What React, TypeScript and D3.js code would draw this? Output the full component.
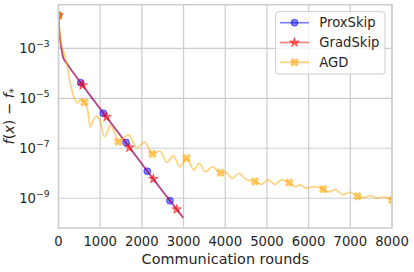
import * as d3 from 'd3';

// ProxSkip curve (communication rounds, f(x) - f*)
const proxX = [0, 15, 40, 70, 115, 200, 532, 1075, 1619, 2130, 2674, 2993];
const proxY = [2.1e-2, 6.3e-3, 2.2e-3, 1.0e-3, 4.2e-4, 2.5e-4, 4.2e-5, 2.5e-6, 1.7e-7, 1.2e-8, 7.9e-10, 1.66e-10];
const proxMarks = [0, 532, 1075, 1619, 2130, 2674];

// GradSkip curve
const gradX = [0, 15, 40, 70, 115, 200, 580, 1155, 1700, 2275, 2835, 2990];
const gradY = [2.1e-2, 6.3e-3, 2.2e-3, 1.0e-3, 4.2e-4, 2.5e-4, 3.3e-5, 1.8e-6, 1.07e-7, 5.9e-9, 3.6e-10, 1.66e-10];
const gradMarks = [0, 580, 1155, 1700, 2275, 2835];

// AGD curve (oscillating)
const agdX = [
  0, 30, 70, 115, 197, 260, 300, 379, 461, 540, 620, 700, 763, 835, 900, 996, 1099, 1180, 1235, 1339,
  1435, 1680, 1880, 2060, 2250, 2430, 2596, 2754, 2915, 3074, 3250, 3370, 3530, 3690, 3890, 4000,
  4170, 4330, 4500, 4714, 4875, 5033, 5194, 5355, 5535, 5674, 5794, 5954, 6113, 6350, 6480, 6640,
  6820, 6980, 7175, 7330, 7480, 7650, 7800, 8000,
];
const agdY = [
  2.1e-2, 5.0e-3, 1.4e-3, 7.9e-4, 2.5e-4, 6.3e-5, 2.9e-5, 1.0e-5, 6.6e-6, 9.1e-6, 6.9e-6, 3.4e-6,
  7.2e-7, 1.35e-6, 1.95e-6, 1.35e-6, 2.9e-7, 4.6e-7, 8.5e-7, 4.6e-7, 1.8e-7, 3.5e-7, 1.05e-7, 1.8e-7,
  5.9e-8, 7.9e-8, 2.75e-8, 5.0e-8, 1.8e-8, 4.0e-8, 1.35e-8, 2.5e-8, 1.15e-8, 1.8e-8, 1.05e-8, 1.1e-8,
  6.3e-9, 1.0e-8, 5.6e-9, 4.7e-9, 3.6e-9, 5.4e-9, 3.6e-9, 5.4e-9, 4.2e-9, 2.9e-9, 3.4e-9, 2.5e-9,
  2.9e-9, 2.3e-9, 1.78e-9, 2.2e-9, 1.41e-9, 1.74e-9, 1.2e-9, 1.07e-9, 1.26e-9, 1.02e-9, 1.12e-9, 8.5e-10,
];
const agdMarks = [0, 620, 1435, 2250, 3074, 3890, 4714, 5535, 6350, 7175, 8000];

const xTicks = [0, 1000, 2000, 3000, 4000, 5000, 6000, 7000, 8000];
const yTickExps = [-9, -7, -5, -3];
const seriesNames = ['ProxSkip', 'GradSkip', 'AGD'];
const seriesColors = ['#0000ff', '#ff0000', '#ffa500'];

const W = 414;
const H = 272;
const plot = { left: 58.5, right: 392, top: 4.7, bottom: 228 };
const font = 'DejaVu Sans, sans-serif';
const txt = '#262626';
const gridC = '#cccccc';

const x = d3.scaleLinear().domain([0, 8000]).range([plot.left, plot.right]);
const y = d3.scaleLog().domain([Math.pow(10, -10.19), Math.pow(10, -1.256)]).range([plot.bottom, plot.top]);

type P = [number, number];
const zip = (xs: number[], ys: number[]): P[] => xs.map((v, i) => [v, ys[i]]);
const pick = (xs: number[], ys: number[], marks: number[]): P[] =>
  marks.map((m) => [m, ys[xs.indexOf(m)]]);

const lineGen = d3.line<P>().x((d) => x(d[0])).y((d) => y(d[1])).curve(d3.curveMonotoneX);

const circlePath = d3.symbol().type(d3.symbolCircle).size(38)()!;
const starPath = d3.symbol().type(d3.symbolStar).size(28)()!;
const xPath = d3.symbol().type(d3.symbolCross).size(34)()!;

function Marker({ kind, cx, cy, color }: { kind: number; cx: number; cy: number; color: string }) {
  const d = kind === 0 ? circlePath : kind === 1 ? starPath : xPath;
  const rot = kind === 2 ? ' rotate(45)' : '';
  return (
    <path
      d={d}
      transform={`translate(${cx},${cy})${rot}`}
      fill={color}
      fillOpacity={0.5}
      stroke={color}
      strokeOpacity={0.5}
      strokeWidth={1}
    />
  );
}

export default function App() {
  const series = [
    { pts: zip(proxX, proxY), marks: pick(proxX, proxY, proxMarks) },
    { pts: zip(gradX, gradY), marks: pick(gradX, gradY, gradMarks) },
    { pts: zip(agdX, agdY), marks: pick(agdX, agdY, agdMarks) },
  ];
  const cx = (plot.left + plot.right) / 2;
  const cy = (plot.top + plot.bottom) / 2;

  return (
    <svg
      width={W}
      height={H}
      style={{ position: 'absolute', left: 0, top: 0, background: '#fff' }}
      fontFamily={font}
    >
      <defs>
        <clipPath id="plotClip">
          <rect x={plot.left} y={plot.top} width={plot.right - plot.left} height={plot.bottom - plot.top} />
        </clipPath>
      </defs>
      <rect width={W} height={H} fill="#fff" />

      {/* grid */}
      {xTicks.map((t) => (
        <line key={'gx' + t} x1={x(t)} x2={x(t)} y1={plot.top} y2={plot.bottom} stroke={gridC} strokeWidth={1.2} />
      ))}
      {yTickExps.map((e) => (
        <line key={'gy' + e} x1={plot.left} x2={plot.right} y1={y(Math.pow(10, e))} y2={y(Math.pow(10, e))} stroke={gridC} strokeWidth={1.2} />
      ))}

      {/* data */}
      <g clipPath="url(#plotClip)">
        {series.map((s, i) => (
          <g key={seriesNames[i]}>
            <path d={lineGen(s.pts)!} fill="none" stroke={seriesColors[i]} strokeOpacity={0.5} strokeWidth={1.7} />
            {s.marks.map((m, j) => (
              <Marker key={j} kind={i} cx={x(m[0])} cy={y(m[1])} color={seriesColors[i]} />
            ))}
          </g>
        ))}
      </g>

      {/* frame */}
      <rect
        x={plot.left}
        y={plot.top}
        width={plot.right - plot.left}
        height={plot.bottom - plot.top}
        fill="none"
        stroke={gridC}
        strokeWidth={1.5}
      />

      {/* x tick labels */}
      {xTicks.map((t) => (
        <text key={'xt' + t} x={x(t)} y={246} textAnchor="middle" fontSize={13.2} fill={txt}>
          {t}
        </text>
      ))}
      <text x={cx} y={264} textAnchor="middle" fontSize={14.4} fill={txt}>
        Communication rounds
      </text>

      {/* y tick labels */}
      {yTickExps.map((e) => (
        <text key={'yt' + e} x={49.5} y={y(Math.pow(10, e)) + 5} textAnchor="end" fontSize={13.2} fill={txt}>
          10
          <tspan dy={-6} fontSize={9.2}>
            {'\u2212' + Math.abs(e)}
          </tspan>
        </text>
      ))}
      <text transform={`translate(14,${cy}) rotate(-90)`} textAnchor="middle" fontSize={14.4} fill={txt}>
        <tspan fontStyle="italic">f</tspan>(<tspan fontStyle="italic">x</tspan>) − <tspan fontStyle="italic">f</tspan>
        <tspan dy={3} fontSize={10}>
          *
        </tspan>
      </text>

      {/* legend */}
      <g>
        <rect x={275.7} y={11.7} width={109.3} height={62.3} rx={3} fill="#fff" fillOpacity={0.8} stroke={gridC} strokeWidth={1} />
        {seriesNames.map((n, i) => {
          const ly = 22.7 + i * 19.8;
          return (
            <g key={n}>
              <line x1={280} x2={309} y1={ly} y2={ly} stroke={seriesColors[i]} strokeOpacity={0.5} strokeWidth={1.7} />
              <Marker kind={i} cx={294.5} cy={ly} color={seriesColors[i]} />
              <text x={319.3} y={ly + 4.7} fontSize={13.2} fill={txt}>
                {n}
              </text>
            </g>
          );
        })}
      </g>
    </svg>
  );
}
